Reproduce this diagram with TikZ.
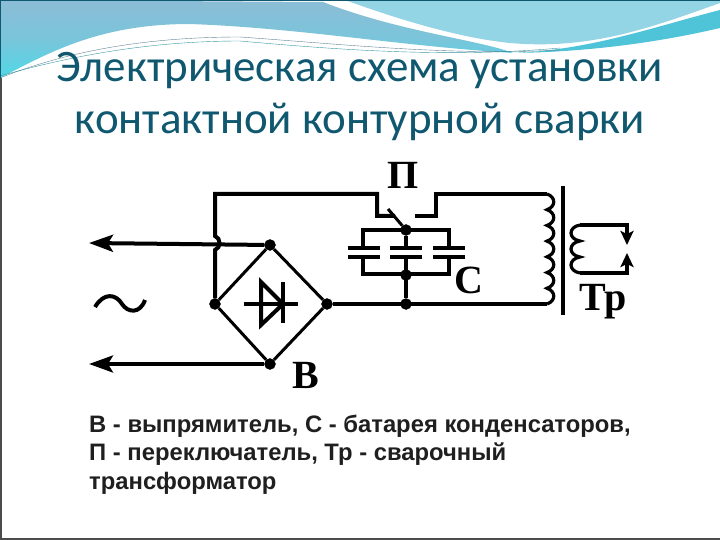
\documentclass[tikz,border=0pt]{standalone}
\usepackage{fontspec}
\setmainfont{Carlito}
\newfontfamily\capfont{Liberation Sans}
\newfontfamily\letfont{Liberation Serif}
\usepackage{tikz}
\usetikzlibrary{arrows.meta,positioning,calc}
\definecolor{titleblue}{HTML}{0F5870}
\definecolor{bandblue}{HTML}{8CBDD6}
\definecolor{bandcyan}{HTML}{4FD8E6}
\definecolor{skyblue}{HTML}{93D5E5}
\definecolor{rimblue}{HTML}{4FC3D8}
\tikzstyle{junction}=[draw,fill=black,circle,minimum size=11pt,inner sep=0pt]
\tikzstyle{wire}=[line width=4pt]
\tikzstyle{thinwire}=[line width=3pt]
\tikzstyle{plate}=[line width=4.5pt]
\tikzstyle{letter}=[font=\letfont\bfseries\fontsize{40}{40}\selectfont,inner sep=0pt]
\tikzstyle{caption}=[font=\capfont\bfseries\fontsize{23.8}{28.5}\selectfont,text=black!88,inner sep=0pt,anchor=north west,align=left]
\begin{document}
\begin{tikzpicture}[x=1pt,y=-1pt]
\useasboundingbox (0,0) rectangle (720,540);
% slide background
\fill[white] (0,0) rectangle (720,540);
\shade[top color=bandblue,bottom color=bandcyan,middle color=bandblue!70!bandcyan] (0,0) -- (0,78) .. controls (50,52) and (100,24) .. (190,24)
  .. controls (300,28) and (400,46) .. (513,53) .. controls (480,40) and (400,32) .. (323,2) -- cycle;
\fill[skyblue] (345,0) .. controls (400,20) and (460,38) .. (510,43) .. controls (590,50) and (650,28) .. (720,3) -- (720,0) -- cycle;
\fill[rimblue] (513,53) .. controls (590,50) and (650,28) .. (720,10) -- (720,28) .. controls (660,42) and (590,52) .. (513,53) -- cycle;
\draw[bandblue!70!black,thin] (0,78) .. controls (70,50) and (150,37) .. (240,37) .. controls (340,44) and (450,56) .. (560,50);
\draw[bandcyan!70!black,thin] (0,76) .. controls (70,56) and (150,41) .. (240,41) .. controls (340,50) and (450,58) .. (560,48);
\draw[titleblue,line width=1.5pt] (0,78) -- (0,0) -- (720,0);
\draw[black!70,line width=1.5pt] (1,78) -- (1,539) -- (720,539);
% title
\node[text=titleblue,font=\fontsize{45}{52}\selectfont,align=center,inner sep=0pt] (title) at (360,96.5) {Электрическая схема установки\\контактной контурной сварки};
% white panel with the scheme
\fill[white] (75,152) rectangle (645,498);
% bridge
\node[junction] (bt) at (270,245) {};
\node[junction] (bl) at (215,304) {};
\node[junction] (br) at (327,304) {};
\node[junction] (bb) at (270,364) {};
\draw[thinwire] (bt) -- (br) -- (bb) -- (bl) -- (bt);
% diode
\coordinate (da) at (244,304);
\coordinate (dk) at (298,304);
\coordinate (tu) at (261,282);
\coordinate (td) at (261,325);
\coordinate (tt) at (283,304);
\coordinate (ku) at (283,282);
\coordinate (kd) at (283,323);
\draw[wire] (da) -- (dk);
\draw[wire] (tu) -- (td) -- (tt) -- cycle;
\draw[plate] (ku) -- (kd);
% mains leads
\coordinate (ina) at (89,243);
\coordinate (inb) at (89,364);
\draw[wire,-{Stealth[length=24pt,width=17pt,inset=5pt]}] (bt) -- (ina);
\draw[wire,-{Stealth[length=24pt,width=17pt,inset=5pt]}] (bb) -- (inb);
\coordinate (ta) at (95,307);
\coordinate (tb) at (145,300);
\draw[wire] (ta) .. controls (104,292) and (116,294) .. (122,304) .. controls (128,313) and (140,314) .. (tb);
% top wire with the jump
\coordinate (lu) at (215,194);
\coordinate (ja) at (215,236);
\coordinate (jb) at (215,250);
\coordinate (sa) at (377,194);
\coordinate (sb) at (377,216);
\coordinate (sc) at (395,216);
\coordinate (sd) at (415,216);
\coordinate (se) at (436,216);
\coordinate (sf) at (436,194);
\coordinate (pu) at (547,194);
\coordinate (pd) at (547,304);
\draw[wire] (bl) -- (jb) .. controls +(6,-2) and +(6,2) .. (ja) -- (lu) -- (sa) -- (sb) -- (sc);
\draw[wire] (sd) -- (se) -- (sf) -- (pu);
\draw[wire] (br) -- (pd);
% capacitors
\node[junction] (cu) at (406,230) {};
\node[junction] (cd) at (406,275) {};
\node[junction] (cb) at (406,304) {};
\coordinate (arm) at (388,209);
\draw[thinwire] (arm) -- (cu);
\coordinate (cla) at (363,230);
\coordinate (clb) at (363,274);
\coordinate (cra) at (449,230);
\coordinate (crb) at (449,274);
\draw[wire] (clb) -- (cla) -- (cra) -- (crb) -- cycle;
\draw[wire] (cu) -- (cb);
\fill[white] (350,250) rectangle (464,255);
\foreach \cname/\cx in {one/363.5,two/406,three/449}{
  \coordinate (\cname a) at (\cx-16,248);
  \coordinate (\cname b) at (\cx+16,248);
  \coordinate (\cname c) at (\cx-16,257);
  \coordinate (\cname d) at (\cx+16,257);
  \draw[plate] (\cname a) -- (\cname b);
  \draw[plate] (\cname c) -- (\cname d);
}
% transformer
\coordinate (cua) at (563,186);
\coordinate (cub) at (563,315);
\draw[line width=4.5pt] (cua) -- (cub);
\draw[line width=3.2pt] (pu) \foreach \i in {1,...,7}{ .. controls +(9,3) and +(9,-3) .. ++(0,15.71)};
\coordinate (qu) at (580,225);
\coordinate (qd) at (580,273);
\coordinate (qa) at (627,225);
\coordinate (qb) at (627,245);
\coordinate (qc) at (627,273);
\coordinate (qe) at (627,253);
\draw[line width=3.2pt] (qu) \foreach \i in {1,2,3}{ .. controls +(-12,2) and +(-12,-2) .. ++(0,16)};
\draw[wire,-{Stealth[length=14pt,width=13pt,inset=3pt]}] (qu) -- (qa) -- (qb);
\draw[wire,-{Stealth[length=14pt,width=13pt,inset=3pt]}] (qd) -- (qc) -- (qe);
% letters
\node[letter] (lab-p) at (403,175) {П};
\node[letter] (lab-c) at (469,280) {С};
\node[letter] (lab-v) at (306,375) {В};
\node[letter] (lab-t) at (603,302) {Тр};
% caption
\node[caption] (legend) at (89,414.5) {В - выпрямитель, С - батарея конденсаторов,\\П - переключатель, Тр - сварочный\\трансформатор};
\end{tikzpicture}
\end{document}
